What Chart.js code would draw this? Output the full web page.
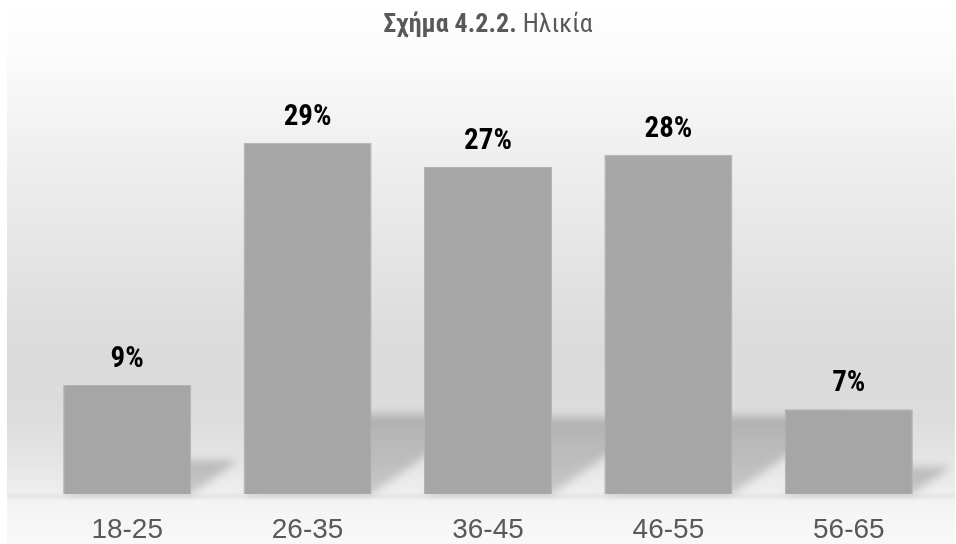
<!DOCTYPE html>
<html>
<head>
<meta charset="utf-8">
<script src="https://cdn.jsdelivr.net/npm/chart.js@4/dist/chart.umd.min.js"></script>
<style>
  html, body { margin: 0; padding: 0; background: #ffffff; }
  #wrap { width: 956px; height: 544px; position: relative; }
</style>
</head>
<body>
<div id="wrap"><canvas id="c" width="956" height="544"></canvas></div>
<script>
// Age groups and the share of respondents in each (percent)
const ageGroups = ['18-25', '26-35', '36-45', '46-55', '56-65'];
const sharePct = [9, 29, 27, 28, 7];

// Title pieces: bold figure number followed by the regular caption
const titleBold = 'Σχήμα 4.2.2.';
const titleRest = ' Ηλικία';

const NARROW = "'Liberation Sans Narrow', 'Arial Narrow', 'Roboto Condensed', 'Liberation Sans', sans-serif";
const REGULAR = "'Liberation Sans', Arial, sans-serif";

// Soft grey backdrop with a lighter floor under the bars
const backdrop = {
  id: 'backdrop',
  beforeDraw(chart) {
    const { ctx, width, height } = chart;
    ctx.save();
    ctx.fillStyle = '#ffffff';
    ctx.fillRect(0, 0, width, height);
    const g = ctx.createLinearGradient(0, 0, 0, height);
    g.addColorStop(0.00, '#ffffff');
    g.addColorStop(0.09, '#fcfcfc');
    g.addColorStop(0.28, '#efefef');
    g.addColorStop(0.46, '#e5e5e5');
    g.addColorStop(0.64, '#dbdbdb');
    g.addColorStop(0.76, '#dcdcdc');
    g.addColorStop(0.85, '#e5e5e5');
    g.addColorStop(0.905, '#eeeeee');
    g.addColorStop(0.912, '#e4e4e4');
    g.addColorStop(0.92, '#f3f3f3');
    g.addColorStop(1.00, '#f9f9f9');
    ctx.fillStyle = g;
    ctx.fillRect(7, 0, width - 8, height);
    ctx.restore();
  }
};

// Perspective shadow cast by each bar back onto the floor
const barShadows = {
  id: 'barShadows',
  beforeDatasetsDraw(chart) {
    const { ctx } = chart;
    const meta = chart.getDatasetMeta(0);
    ctx.save();
    ctx.filter = 'blur(4px)';
    meta.data.forEach(bar => {
      const p = bar.getProps(['x', 'y', 'base', 'width'], true);
      const h = p.base - p.y;
      const s = 0.36 * h / (1 + h / 600);
      const dx = 1.4 * s;
      const l = p.x - p.width / 2, r = p.x + p.width / 2;
      const g = ctx.createLinearGradient(0, p.base, 0, p.base - s);
      g.addColorStop(0, 'rgba(0,0,0,0.16)');
      g.addColorStop(0.75, 'rgba(0,0,0,0.18)');
      g.addColorStop(1, 'rgba(0,0,0,0.21)');
      ctx.fillStyle = g;
      ctx.beginPath();
      ctx.moveTo(l, p.base);
      ctx.lineTo(r, p.base);
      ctx.lineTo(r + dx, p.base - s);
      ctx.lineTo(l + dx, p.base - s);
      ctx.closePath();
      ctx.fill();
    });
    ctx.restore();
  }
};

// Percent labels above the bars and the two-weight title
const annotations = {
  id: 'annotations',
  afterDatasetsDraw(chart) {
    const { ctx, chartArea } = chart;
    const meta = chart.getDatasetMeta(0);
    ctx.save();
    ctx.fillStyle = '#000000';
    ctx.font = 'bold 29px ' + NARROW;
    ctx.textAlign = 'center';
    ctx.textBaseline = 'alphabetic';
    meta.data.forEach((bar, i) => {
      ctx.fillText(sharePct[i] + '%', bar.x, bar.y - 18);
    });

    ctx.fillStyle = '#595959';
    ctx.textAlign = 'left';
    ctx.font = 'bold 26px ' + NARROW;
    const wBold = ctx.measureText(titleBold).width;
    ctx.font = '26px ' + NARROW;
    const wRest = ctx.measureText(titleRest).width;
    const cx = (chartArea.left + chartArea.right) / 2;
    const x0 = cx - (wBold + wRest) / 2;
    ctx.font = 'bold 26px ' + NARROW;
    ctx.fillText(titleBold, x0, 32);
    ctx.font = '26px ' + NARROW;
    ctx.fillText(titleRest, x0 + wBold, 32);
    ctx.restore();
  }
};

new Chart(document.getElementById('c'), {
  type: 'bar',
  data: {
    labels: ageGroups,
    datasets: [{
      data: sharePct,
      backgroundColor: '#a6a6a6',
      borderColor: '#b2b2b2',
      borderWidth: 1,
      barPercentage: 0.71,
      categoryPercentage: 1.0
    }]
  },
  options: {
    responsive: false,
    animation: false,
    devicePixelRatio: 1,
    layout: { padding: { left: 37, right: 17, top: 70, bottom: 0 } },
    plugins: {
      legend: { display: false },
      title: { display: false },
      tooltip: { enabled: false }
    },
    scales: {
      x: {
        grid: { display: false, drawTicks: false },
        border: { display: false },
        ticks: {
          color: '#595959',
          font: { family: REGULAR, size: 28 },
          padding: 19,
          maxRotation: 0
        },
        afterFit(scale) { scale.height = 50; }
      },
      y: {
        display: false,
        min: 0,
        max: 35
      }
    }
  },
  plugins: [backdrop, barShadows, annotations]
});
</script>
</body>
</html>
